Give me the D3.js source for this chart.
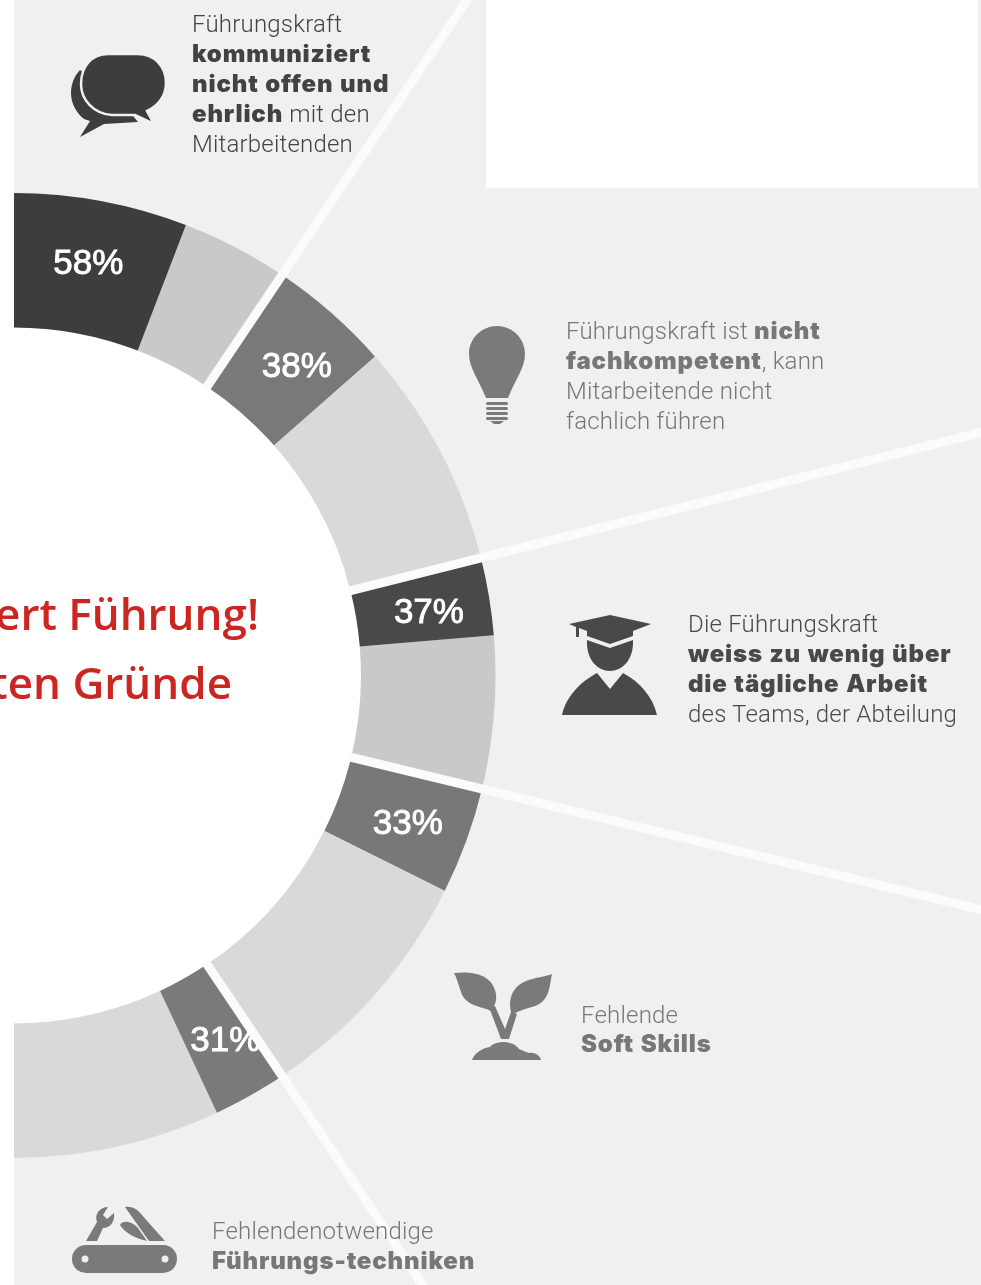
<!DOCTYPE html>
<html><head><meta charset="utf-8">
<script src="https://cdn.jsdelivr.net/npm/d3@7"></script>
<style>html,body{margin:0;padding:0;background:#fff;overflow:hidden}svg{display:block}</style>
</head><body><svg id="c" width="981" height="1285"></svg>
<script>
// data: percentage labels and the angular extents (degrees clockwise from 12 o'clock)
const percentages = [58, 38, 37, 33, 31];
const sectorStarts = [0, 33.9, 75.9, 103.6, 146.1];
const sectorEnds = [33.9, 75.9, 103.6, 146.1, 180];
const darkEnds = [21, 48.6, 85.2, 116.5, 155];
const labelAngles = [10.3, 42.4, 81.1, 110.3, 149.7];
const dividerAngles = [33.9, 75.9, 103.6, 146.1];
const darkColors = ["#3e3e3e", "#797979", "#484848", "#787878", "#7a7a7a"];
const lightColors = ["#c9c9c9", "#d9d9d9", "#c9c9c9", "#d9d9d9", "#d9d9d9"];
const titleLines = ["ert Führung!", "ten Gründe"];
const captions = [
  [[["Führungskraft",0]],[["kommuniziert",1]],[["nicht offen und",1]],[["ehrlich",1],[" mit den",0]],[["Mitarbeitenden",0]]],
  [[["Führungskraft ist ",0],["nicht",1]],[["fachkompetent",1],[", kann",0]],[["Mitarbeitende nicht",0]],[["fachlich führen",0]]],
  [[["Die Führungskraft",0]],[["weiss zu wenig über",1]],[["die tägliche Arbeit",1]],[["des Teams, der Abteilung",0]]],
  [[["Fehlende",0]],[["Soft Skills",1]]],
  [[["Fehlendenotwendige",0]],[["Führungs-techniken",1]]]
];

const BG = "#f0f0f0";
const cx = 13, cy = 675.5, rIn = 348, rOut = 482.5, rLabel = 421;
const captionPos = [[192,32],[566,339],[688,632],[581,1023],[212,1239]];
const captionColor = ["#434343","#777777","#4a4a4a","#777777","#777777"];
const svg = d3.select("#c");
const rad = d3.scaleLinear().domain([0,360]).range([0,2*Math.PI]);

const defs = svg.append("defs");
defs.append("clipPath").attr("id","panel").append("rect").attr("x",14).attr("y",0).attr("width",967).attr("height",1285);
defs.append("filter").attr("id","soft")
  .attr("filterUnits","userSpaceOnUse").attr("x",-50).attr("y",0).attr("width",1100).attr("height",1285)
  .append("feGaussianBlur").attr("stdDeviation",0.5);

const root = svg.append("g").attr("filter","url(#soft)");
root.append("rect").attr("x",14).attr("y",0).attr("width",967).attr("height",1285).attr("fill",BG);
const g = root.append("g").attr("clip-path","url(#panel)").append("g").attr("transform",`translate(${cx},${cy})`);
const arc = d3.arc().innerRadius(rIn).outerRadius(rOut);
g.append("circle").attr("r",rIn).attr("fill","#fff");
const sectors = percentages.map((p,i)=>({p,i,start:rad(sectorStarts[i]),mid:rad(darkEnds[i]),end:rad(sectorEnds[i])}));
g.selectAll("path.light").data(sectors).join("path").attr("class","light")
  .attr("d",d=>arc({startAngle:d.mid,endAngle:d.end})).attr("fill",d=>lightColors[d.i]);
g.selectAll("path.dark").data(sectors).join("path").attr("class","dark")
  .attr("d",d=>arc({startAngle:d.start,endAngle:d.mid})).attr("fill",d=>darkColors[d.i]);
g.selectAll("text.pct").data(sectors).join("text").attr("class","pct")
  .attr("x",d=>d3.pointRadial(rad(labelAngles[d.i]),rLabel)[0])
  .attr("y",d=>d3.pointRadial(rad(labelAngles[d.i]),rLabel)[1]+12.5)
  .attr("text-anchor","middle").attr("fill","#fff").attr("stroke","#fff").attr("stroke-width",0.9)
  .attr("font-family","'Liberation Sans',sans-serif").attr("font-size",35).attr("font-weight",400)
  .text(d=>d.p+"%");
g.selectAll("line.div").data(dividerAngles).join("line").attr("class","div")
  .attr("x1",d=>d3.pointRadial(rad(d),rIn-2)[0]).attr("y1",d=>d3.pointRadial(rad(d),rIn-2)[1])
  .attr("x2",d=>d3.pointRadial(rad(d),1300)[0]).attr("y2",d=>d3.pointRadial(rad(d),1300)[1])
  .attr("stroke","#fbfbfb").attr("stroke-width",9);

// white panel top right
root.append("rect").attr("x",486).attr("y",0).attr("width",492).attr("height",188).attr("fill","#fff");

// title
root.selectAll("text.title").data(titleLines).join("text").attr("class","title")
  .attr("x",(d,i)=>i?232:259).attr("y",(d,i)=>i?699:630).attr("text-anchor","end")
  .attr("font-family","'Open Sans',sans-serif").attr("font-weight",600).attr("font-size",44).attr("fill","#cb2720").text(d=>d);

// captions
captions.forEach((lines,b)=>{
  const t = root.append("g");
  lines.forEach((segs,l)=>{
    const tx = t.append("text").attr("x",captionPos[b][0]).attr("y",captionPos[b][1]+l*(b===3?29:30.1)).attr("fill",captionColor[b]).attr("font-size",24).style("white-space","pre");
    segs.forEach(s=>{
      const sp = tx.append("tspan").text(s[0]);
      if(s[1]) sp.attr("font-family","Inter,sans-serif").attr("font-weight",900).attr("letter-spacing",0.85).attr("word-spacing",1);
      else sp.attr("font-family","Roboto,sans-serif").attr("font-weight",300).attr("letter-spacing",0.2);
    });
  });
});

// icons
const ic = root.append("g");
// speech bubbles
ic.append("path").attr("fill","#3e3e3e").attr("d","M80 70C67 84 68 106 84 119L90 121L80 137L104 124L138 122L120 100Z");
ic.append("path").attr("fill","#3e3e3e").attr("stroke",BG).attr("stroke-width",2.5)
  .attr("d","M108 54L138 54C154 54 166 66 166 83C166 96 158 106 147 111L154 124L135 115L112 115C94 114 81 100 81 84C81 66 92 54 108 54Z");
// bulb
ic.append("path").attr("fill","#7a7a7a").attr("d","M497 326C512 326 525 338 525 354C525 368 515 380 508 398L486 398C479 380 469 368 469 354C469 338 482 326 497 326Z");
[402,407,412,417].forEach(y=>ic.append("rect").attr("x",486).attr("y",y).attr("width",22).attr("height",3).attr("rx",1.5).attr("fill","#7a7a7a"));
ic.append("path").attr("fill","#7a7a7a").attr("d","M490 421L504 421L500 424L494 424Z");
// graduate
ic.append("g").attr("fill","#4a4a4a").call(s=>{
  s.append("path").attr("d","M569 624L610 615L651 624L633 631L633 636L610 644L587 636L587 631L579 628L579 637L576 637L576 627Z");
  s.append("path").attr("d","M587 640L610 648L633 640C634 660 622 671 610 671C598 671 586 660 587 640Z");
  s.append("path").attr("d","M562 715C566 697 580 682 597 673L610 689L623 673C640 682 653 697 657 715Z");
});
// plant
ic.append("g").attr("fill","#7a7a7a").call(s=>{
  s.append("path").attr("d","M454 973C472 971 490 974 495 990C498 999 495 1006 491 1011C482 1006 466 1007 461 992C458 984 457 978 454 973Z");
  s.append("path").attr("d","M552 974C549 988 550 1002 532 1007C522 1010 516 1012 512 1015C507 1000 512 987 526 981C536 977 545 977 552 974Z");
  s.append("path").attr("d","M489 1007L495 1006L505 1029L511 1012L517 1014L509 1039L501 1039Z");
  s.append("path").attr("d","M472 1060C475 1052 483 1048 490 1047C494 1041 512 1039 519 1049C524 1051 526 1052 529 1053C534 1052 540 1055 541 1060Z");
});
// pocket knife
ic.append("g").attr("fill","#7a7a7a").call(s=>{
  s.append("rect").attr("x",72).attr("y",1245).attr("width",105).attr("height",28).attr("rx",14);
  s.append("path").attr("d","M86 1241L97 1222C94 1214 100 1207 108 1207L103 1215L107 1219L114 1213C115 1222 110 1228 103 1228L97 1241Z");
  s.append("path").attr("d","M125 1207C132 1206 137 1209 141 1214L165 1241L149 1241Z");
  s.append("path").attr("d","M120 1225C123 1219 133 1222 138 1228L147 1241C134 1238 124 1232 120 1225Z");
});
ic.selectAll("circle.hole").data([85,165]).join("circle").attr("class","hole").attr("cx",d=>d).attr("cy",1259).attr("r",3.5).attr("fill",BG);
</script></body></html>
